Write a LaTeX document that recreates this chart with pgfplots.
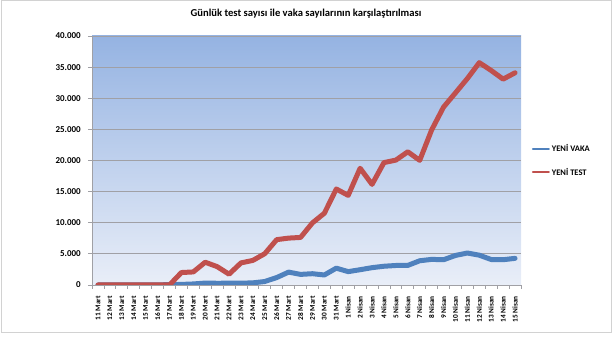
\documentclass[border=0pt]{standalone}
\usepackage{pgfplots}
\pgfplotsset{compat=1.18}
\usepackage{pgfplotstable}
\usepackage{fontspec}
\setmainfont{Carlito}
\definecolor{vaka}{RGB}{79,129,189}
\definecolor{test}{RGB}{192,80,77}
\definecolor{bgtop}{RGB}{149,179,226}
\definecolor{bgbot}{RGB}{233,238,248}
\definecolor{gridc}{RGB}{160,160,165}
\definecolor{framec}{RGB}{210,210,210}
\pgfplotstableread{
i vaka test
0 1 0
1 0 0
2 4 0
3 1 0
4 12 0
5 29 0
6 51 0
7 93 2000
8 168 2100
9 311 3656
10 277 2953
11 289 1738
12 293 3547
13 343 3952
14 561 5035
15 1196 7286
16 2069 7533
17 1704 7641
18 1815 9982
19 1610 11535
20 2704 15422
21 2148 14396
22 2456 18757
23 2786 16160
24 3013 19664
25 3135 20065
26 3148 21400
27 3892 20023
28 4117 24900
29 4056 28578
30 4747 30864
31 5138 33170
32 4789 35720
33 4093 34456
34 4062 33070
35 4281 34090
}\datatable
\begin{document}
\begin{tikzpicture}
\path[use as bounding box] (0pt,0pt) rectangle (614pt,351pt);
\draw[framec, line width=1pt] (1pt,18pt) rectangle (611pt,350pt);
\node[font=\bfseries\fontsize{10.6}{12}\selectfont] at (306pt,337pt) {Günlük test sayısı ile vaka sayılarının karşılaştırılması};
\begin{axis}[
  at={(92pt,66pt)}, anchor=south west,
  scale only axis, width=429pt, height=249pt,
  xmin=-0.5, xmax=35.5, ymin=0, ymax=40000,
  axis background/.style={shade, top color=bgtop, bottom color=bgbot},
  axis x line*=bottom, axis y line*=left,
  axis line style={gridc, line width=0.8pt},
  xtick={0,...,35},
  xticklabels={11 Mart,12 Mart,13 Mart,14 Mart,15 Mart,16 Mart,17 Mart,18 Mart,19 Mart,20 Mart,21 Mart,22 Mart,23 Mart,24 Mart,25 Mart,26 Mart,27 Mart,28 Mart,29 Mart,30 Mart,31 Mart,1 Nisan,2 Nisan,3 Nisan,4 Nisan,5 Nisan,6 Nisan,7 Nisan,8 Nisan,9 Nisan,10 Nisan,11 Nisan,12 Nisan,13 Nisan,14 Nisan,15 Nisan},
  major x tick style={draw=none},
  minor xtick={-0.5,0.5,...,35.5},
  minor x tick style={gridc, line width=0.8pt},
  minor tick length=4pt,
  tick align=outside,
  ytick={0,5000,...,40000},
  major y tick style={gridc, line width=0.8pt},
  major tick length=4pt,
  ymajorgrids, major grid style={gridc, line width=0.8pt},
  xticklabel style={rotate=90, anchor=east, inner sep=0pt, font=\bfseries\fontsize{7.3}{8}\selectfont},
  xticklabel shift=7pt,
  yticklabel style={font=\bfseries\fontsize{9}{10}\selectfont, inner sep=0pt},
  yticklabel shift=7pt,
  /pgf/number format/.cd, 1000 sep={.}, assume math mode=true,
  /pgfplots/.cd,
  scaled y ticks=false,
  legend style={at={(1.025,0.5)}, anchor=west, draw=none, fill=none, inner sep=0pt, row sep=11pt, font=\bfseries\fontsize{8.5}{9}\selectfont},
  legend cell align=left,
  legend image code/.code={\draw[#1, line width=2pt] (0pt,0pt) -- (16pt,0pt);},
]
\addplot[vaka, line width=5pt, line join=round, line cap=round] table[x=i, y=vaka] {\datatable};
\addlegendentry{YENİ VAKA}
\addplot[test, line width=5pt, line join=round, line cap=round] table[x=i, y=test] {\datatable};
\addlegendentry{YENİ TEST}
\end{axis}
\end{tikzpicture}
\end{document}
